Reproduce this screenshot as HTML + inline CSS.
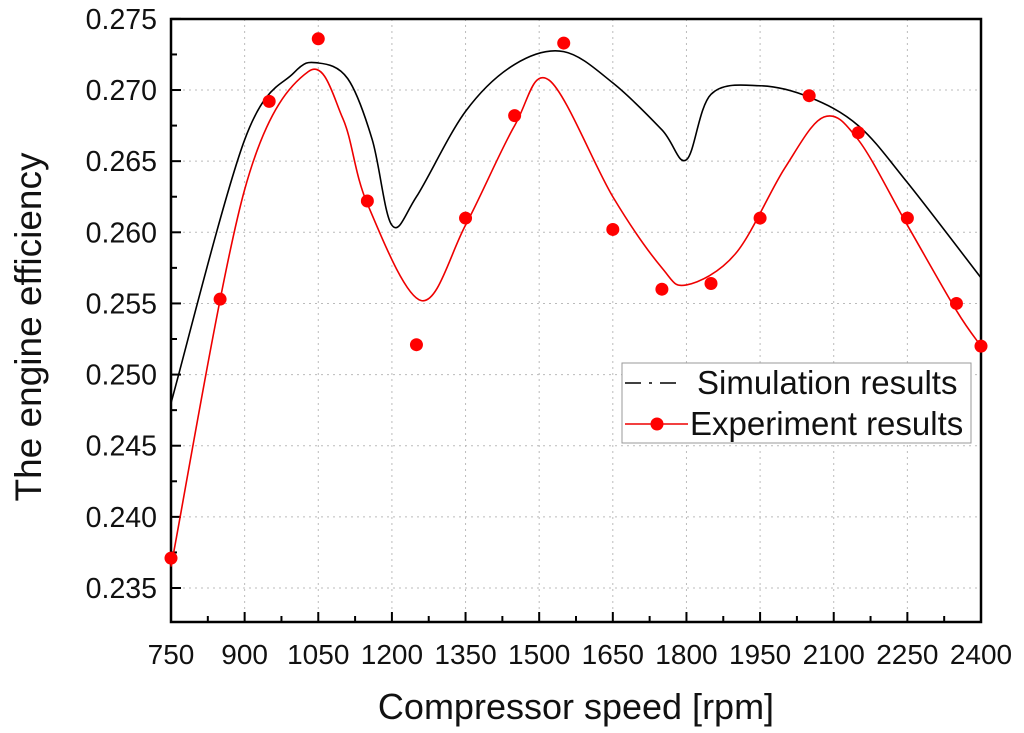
<!DOCTYPE html>
<html><head><meta charset="utf-8"><style>
html,body{margin:0;padding:0;background:#fff;}
svg{display:block;font-family:"Liberation Sans",Arial,sans-serif;}
</style></head><body>
<svg id="chart" width="1024" height="733" viewBox="0 0 1024 733"></svg>
<script>
const xTicks=[750,900,1050,1200,1350,1500,1650,1800,1950,2100,2250,2400];
const yTicks=[0.235,0.240,0.245,0.250,0.255,0.260,0.265,0.270,0.275];
const expX=[750,850,950,1050,1150,1250,1350,1450,1550,1650,1750,1850,1950,2050,2150,2250,2350,2400];
const expY=[0.2371,0.2553,0.2692,0.2736,0.2622,0.2521,0.2610,0.2682,0.2733,0.2602,0.2560,0.2564,0.2610,0.2696,0.2670,0.2610,0.2550,0.2520];
const fitX=[750,900,1030,1100,1150,1260,1350,1450,1520,1650,1750,1800,1900,2000,2080,2150,2250,2350,2400];
const fitY=[0.2365,0.2630,0.2713,0.2680,0.2620,0.2552,0.2605,0.2675,0.2707,0.2625,0.2575,0.2563,0.2585,0.2645,0.2681,0.2665,0.2605,0.2545,0.2520];
const simX=[750,900,1000,1050,1110,1160,1200,1250,1350,1450,1550,1650,1750,1800,1850,1950,2050,2150,2250,2400];
const simY=[0.2480,0.2665,0.2712,0.2719,0.2708,0.2665,0.2605,0.2625,0.2685,0.2718,0.2727,0.2705,0.2672,0.2651,0.2697,0.2703,0.2695,0.2675,0.2635,0.2568];

const L=171,R=981,T=19,B=622;
const xs=v=>L+(v-750)/(2400-750)*(R-L);
const ys=v=>588-(v-0.235)/0.005*71.14;
const svg=document.getElementById('chart');
const NS='http://www.w3.org/2000/svg';
function mk(tag,attrs,parent){const e=document.createElementNS(NS,tag);for(const k in attrs)e.setAttribute(k,attrs[k]);(parent||svg).appendChild(e);return e;}
function smooth(X,Y){const p=X.map((x,i)=>[xs(x),ys(Y[i])]);let d='M'+p[0][0]+','+p[0][1];
for(let i=0;i<p.length-1;i++){const p0=p[Math.max(0,i-1)],p1=p[i],p2=p[i+1],p3=p[Math.min(p.length-1,i+2)];
const c1=[p1[0]+(p2[0]-p0[0])/6,p1[1]+(p2[1]-p0[1])/6],c2=[p2[0]-(p3[0]-p1[0])/6,p2[1]-(p3[1]-p1[1])/6];
d+=' C'+c1[0]+','+c1[1]+' '+c2[0]+','+c2[1]+' '+p2[0]+','+p2[1];}return d;}

xTicks.forEach(v=>{if(v>750&&v<2400){const g=mk('line',{x1:xs(v),x2:xs(v),y1:T,y2:B,stroke:'#bbb','stroke-dasharray':'2,4','stroke-width':1});
}});
yTicks.forEach(v=>{const y=ys(v);if(y>T+2&&y<B){const g=mk('line',{x1:L,x2:R,y1:y,y2:y,stroke:'#bbb','stroke-dasharray':'2,4','stroke-width':1});
}});
xTicks.forEach((v,i)=>{const x=xs(v);
const t=mk('line',{x1:x,x2:x,y1:B,y2:B-10,stroke:'#000','stroke-width':2});
if(i<xTicks.length-1){const m=mk('line',{x1:xs(v+75),x2:xs(v+75),y1:B,y2:B-6,stroke:'#000','stroke-width':2});}
const tx=mk('text',{x:x,y:664,'font-size':28,'text-anchor':'middle',fill:'#111'});tx.textContent=v;
});
yTicks.forEach((v,i)=>{const y=ys(v);
const t=mk('line',{x1:L,x2:L+10,y1:y,y2:y,stroke:'#000','stroke-width':2});
if(i<yTicks.length-1){const m=mk('line',{x1:L,x2:L+6,y1:ys(v+0.0025),y2:ys(v+0.0025),stroke:'#000','stroke-width':2});}
const tx=mk('text',{x:157,y:y+10,'font-size':28.5,'text-anchor':'end',fill:'#111'});tx.textContent=v.toFixed(3);
});
const fr=mk('rect',{x:L,y:T,width:R-L,height:B-T,fill:'none',stroke:'#000','stroke-width':2.5});

const sim=mk('path',{d:smooth(simX,simY),fill:'none',stroke:'#000','stroke-width':1.6});

const fit=mk('path',{d:smooth(fitX,fitY),fill:'none',stroke:'#e00','stroke-width':1.6});

expX.forEach((x,i)=>{const c=mk('circle',{cx:xs(x),cy:ys(expY[i]),r:6.5,fill:'#f00'});
});
const lg=mk('g',{});
mk('rect',{x:622,y:363,width:349,height:80,fill:'#fff',stroke:'#999','stroke-width':1},lg);
mk('line',{x1:625,x2:688,y1:383,y2:383,stroke:'#000','stroke-width':1.6,'stroke-dasharray':'16,8,3,8,16'},lg);
const l1=mk('text',{x:697,y:394,'font-size':33,fill:'#111'},lg);l1.textContent='Simulation results';

mk('line',{x1:625,x2:688,y1:424,y2:424,stroke:'#e00','stroke-width':1.6},lg);
mk('circle',{cx:657,cy:424,r:6.5,fill:'#f00'},lg);
const l2=mk('text',{x:690,y:435,'font-size':33,fill:'#111'},lg);l2.textContent='Experiment results';

const xt=mk('text',{x:576,y:719,'font-size':36,'text-anchor':'middle',fill:'#111'});xt.textContent='Compressor speed [rpm]';

const yt=mk('text',{x:0,y:0,'font-size':37,'text-anchor':'middle',fill:'#111',transform:'translate(41,327) rotate(-90)'});yt.textContent='The engine efficiency';

</script>
</body></html>
